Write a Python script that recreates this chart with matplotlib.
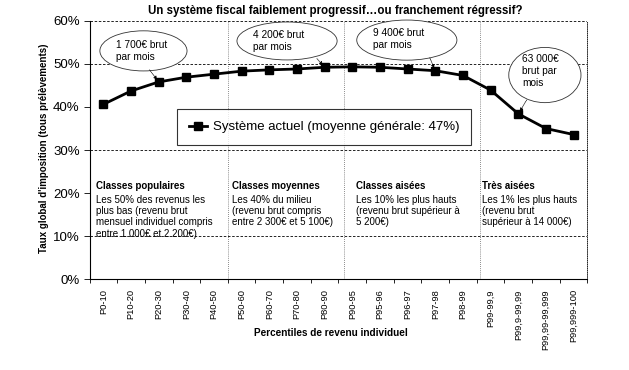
import numpy as np
import matplotlib
matplotlib.use('Agg')
import matplotlib.pyplot as plt
from matplotlib.patches import Ellipse
from matplotlib.ticker import PercentFormatter, FixedLocator

plt.rcParams['font.family'] = ['Liberation Sans', 'DejaVu Sans']

# data
percentiles = ['P0-10', 'P10-20', 'P20-30', 'P30-40', 'P40-50', 'P50-60',
               'P60-70', 'P70-80', 'P80-90', 'P90-95', 'P95-96', 'P96-97',
               'P97-98', 'P98-99', 'P99-99,9', 'P99,9-99,99',
               'P99,99-99,999', 'P99,999-100']
taux = [40.6, 43.7, 45.8, 46.9, 47.6, 48.3, 48.6, 48.8, 49.2, 49.3,
        49.2, 48.8, 48.4, 47.3, 43.9, 38.4, 35.0, 33.6]
serie_label = 'Système actuel (moyenne générale: 47%)'

bulles = ['1 700€ brut\npar mois', '4 200€ brut\npar mois',
          '9 400€ brut\npar mois', '63 000€\nbrut par\nmois']
bulles_idx = [2, 8, 12, 15]

classes_titre = ['Classes populaires', 'Classes moyennes', 'Classes aisées', 'Très aisées']
classes_texte = ['Les 50% des revenus les\nplus bas (revenu brut\nmensuel individuel compris\nentre 1.000€ et 2 200€)',
                 'Les 40% du milieu\n(revenu brut compris\nentre 2 300€ et 5 100€)',
                 'Les 10% les plus hauts\n(revenu brut supérieur à\n5 200€)',
                 'Les 1% les plus hauts\n(revenu brut\nsupérieur à 14 000€)']

y = np.array(taux) / 100
x = np.arange(len(percentiles))

fig = plt.figure(figsize=(6.29, 3.70), dpi=100)
ax = fig.add_axes([0.1423, 0.2446, 0.7917, 0.6995])

# grid lines (dashed) and separators between classes (dotted)
for g in [0.1, 0.3, 0.5, 0.6]:
    ax.axhline(g, color='black', lw=0.6, ls=(0, (3, 2)), zorder=1)
for sep in [4.5, 8.7, 13.6]:
    ax.axvline(sep, color='#666666', lw=0.6, ls=(0, (1, 1.5)), zorder=1)

ax.plot(x, y, color='black', lw=2, marker='s', markersize=5.8, label=serie_label, zorder=5)

ax.set_xlim(-0.5, len(percentiles) - 0.5)
ax.set_ylim(0, 0.6)
ax.yaxis.set_major_locator(FixedLocator(np.arange(0, 0.61, 0.1)))
ax.yaxis.set_major_formatter(PercentFormatter(1.0, decimals=0))
ax.tick_params(axis='y', direction='out', length=4, width=0.6, labelsize=9.5, pad=3)

ax.set_xticks(x)
ax.set_xticklabels(percentiles, rotation=90, fontsize=6.7)
ax.set_xticks(np.arange(-0.5, len(percentiles)), minor=True)
ax.tick_params(axis='x', which='major', length=0, pad=7)
ax.tick_params(axis='x', which='minor', direction='out', length=3, width=0.6)

ax.spines['top'].set_visible(False)
ax.spines['right'].set_linestyle((0, (1, 1.5)))
ax.spines['right'].set_linewidth(0.6)
ax.spines['left'].set_linewidth(0.8)
ax.spines['bottom'].set_linewidth(0.8)

# ellipses with amounts
ell = [(1.45, 0.530, 3.15, 0.093), (6.64, 0.553, 3.62, 0.088),
       (10.97, 0.555, 3.62, 0.093), (15.96, 0.474, 2.61, 0.128)]
txt_pos = [(0.44, 0.529), (5.40, 0.553), (9.75, 0.558), (15.15, 0.483)]
ptr_from = [(1.67, 0.486), (7.72, 0.512), (11.8, 0.514), (15.3, 0.416)]
for (cx, cy, w, h), (tx, ty), (px, py), lab, i in zip(ell, txt_pos, ptr_from, bulles, bulles_idx):
    ax.add_patch(Ellipse((cx, cy), w, h, facecolor='white', edgecolor='#333333',
                         lw=0.6, zorder=6, clip_on=False))
    ax.text(tx, ty, lab, fontsize=7.3, ha='left', va='center', zorder=7, linespacing=1.25)
    ax.annotate('', xy=(x[i], y[i]), xytext=(px, py),
                arrowprops=dict(arrowstyle='-|>', lw=0.5, ls=(0, (1, 1)),
                                mutation_scale=5, color='black', shrinkA=0, shrinkB=2),
                zorder=7)

# class descriptions
for xt, t1, t2 in zip([-0.27, 4.65, 9.13, 13.68], classes_titre, classes_texte):
    ax.text(xt, 0.229, t1, fontsize=7, fontweight='bold', ha='left', va='top', zorder=4)
    ax.text(xt, 0.197, t2, fontsize=7, ha='left', va='top', zorder=4, linespacing=1.18)

leg = ax.legend(loc='upper left', bbox_to_anchor=(0.176, 0.658), fontsize=9.5,
                frameon=True, fancybox=False, handlelength=1.4, handletextpad=0.4,
                borderpad=0.9, borderaxespad=0)
leg.get_frame().set_edgecolor('black')
leg.get_frame().set_linewidth(0.8)
leg.set_zorder(8)

fig.text(0.533, 0.970, 'Un système fiscal faiblement progressif…ou franchement régressif?',
         fontsize=8.3, fontweight='bold', ha='center', va='center')
fig.text(0.070, 0.599, "Taux global d'imposition (tous prélèvements)",
         fontsize=7, fontweight='bold', rotation=90, ha='center', va='center')
fig.text(0.526, 0.10, 'Percentiles de revenu individuel',
         fontsize=7.2, fontweight='bold', ha='center', va='center')

fig.savefig('out.png', dpi=100)
